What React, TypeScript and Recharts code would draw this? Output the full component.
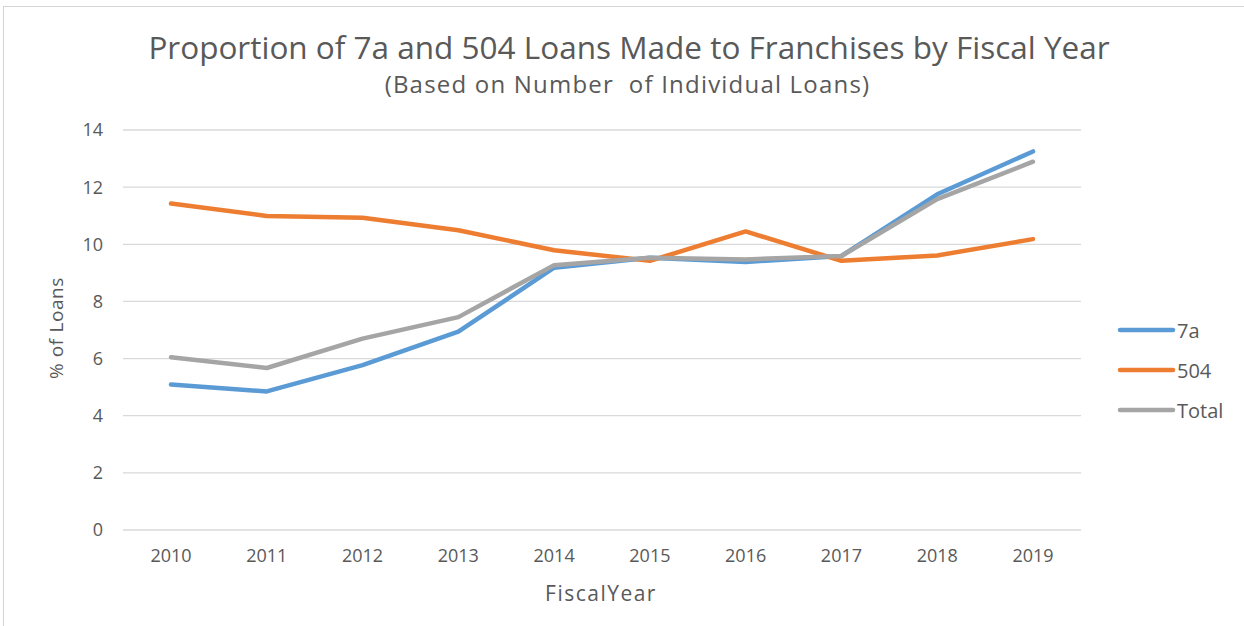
import React from "react";
import { LineChart, Line, XAxis, YAxis, CartesianGrid } from "recharts";

const years = ["2010", "2011", "2012", "2013", "2014", "2015", "2016", "2017", "2018", "2019"];
const loans7a = [5.09, 4.85, 5.77, 6.94, 9.18, 9.53, 9.38, 9.59, 11.75, 13.25];
const loans504 = [11.43, 10.99, 10.93, 10.49, 9.79, 9.42, 10.45, 9.42, 9.61, 10.18];
const loansTotal = [6.05, 5.67, 6.7, 7.45, 9.27, 9.53, 9.47, 9.59, 11.58, 12.89];
const yTicks = [0, 2, 4, 6, 8, 10, 12, 14];

const seriesDefs = [
  { key: "7a", name: "7a", color: "#5B9BD5", values: loans7a },
  { key: "504", name: "504", color: "#ED7D31", values: loans504 },
  { key: "Total", name: "Total", color: "#A5A5A5", values: loansTotal },
];

const data = years.map((y, i) => {
  const row: any = { year: y };
  seriesDefs.forEach((s) => (row[s.key] = s.values[i]));
  return row;
});

const FONT = "'Open Sans', 'DejaVu Sans', sans-serif";
const TEXT = "#595959";

export default function App() {
  return (
    <div
      style={{
        position: "absolute",
        left: 0,
        top: 0,
        width: 1244,
        height: 626,
        background: "#fff",
        overflow: "hidden",
        fontFamily: FONT,
      }}
    >
      <div
        style={{
          position: "absolute",
          left: 3,
          top: 6,
          width: 1250,
          height: 700,
          borderTop: "1px solid #d4d4d4",
          borderLeft: "1px solid #d4d4d4",
        }}
      />
      <div
        style={{
          position: "absolute",
          left: 0,
          width: 1258,
          top: 26,
          textAlign: "center",
          fontSize: 31.5,
          lineHeight: "42px",
          color: TEXT,
          whiteSpace: "nowrap",
        }}
      >
        Proportion of 7a and 504 Loans Made to Franchises by Fiscal Year
      </div>
      <div
        style={{
          position: "absolute",
          left: 0,
          width: 1255,
          top: 69,
          textAlign: "center",
          fontSize: 24,
          letterSpacing: 1.2,
          lineHeight: "30px",
          color: TEXT,
          whiteSpace: "nowrap",
        }}
      >
        (Based on Number&nbsp; of Individual Loans)
      </div>
      <div
        style={{
          position: "absolute",
          left: 56,
          top: 328,
          transform: "translate(-50%, -50%) rotate(-90deg)",
          fontSize: 19,
          letterSpacing: 0.6,
          color: TEXT,
          whiteSpace: "nowrap",
        }}
      >
        % of Loans
      </div>
      <div
        style={{
          position: "absolute",
          left: 601,
          top: 593,
          transform: "translate(-50%, -50%)",
          fontSize: 21,
          letterSpacing: 1.5,
          color: TEXT,
          whiteSpace: "nowrap",
          wordSpacing: -7,
        }}
      >
        Fiscal Year
      </div>
      <div style={{ position: "absolute", left: 0, top: 0 }}>
        <LineChart
          width={1244}
          height={626}
          data={data}
          margin={{ top: 130, right: 163, bottom: 0, left: 0 }}
        >
          <CartesianGrid horizontal={true} vertical={false} stroke="#d9d9d9" strokeWidth={1.3} />
          <XAxis
            dataKey="year"
            axisLine={false}
            tickLine={false}
            tickMargin={13}
            height={96}
            padding={{ left: 48, right: 48 }}
            tick={{ fill: TEXT, fontSize: 18, fontFamily: FONT }}
            interval={0}
          />
          <YAxis
            width={123}
            domain={[0, 14]}
            ticks={yTicks}
            axisLine={false}
            tickLine={false}
            tickMargin={14}
            tick={{ fill: TEXT, fontSize: 18, fontFamily: FONT }}
          />
          {seriesDefs.map((s) => (
            <Line
              key={s.key}
              dataKey={s.key}
              name={s.name}
              stroke={s.color}
              strokeWidth={4.5}
              dot={false}
              activeDot={false}
              strokeLinejoin="round"
              strokeLinecap="round"
              isAnimationActive={false}
            />
          ))}
        </LineChart>
      </div>
      <div
        style={{
          position: "absolute",
          left: 1116,
          top: 310,
          fontFamily: FONT,
          fontSize: 20,
          color: TEXT,
        }}
      >
        {seriesDefs.map((s) => (
          <div key={s.key} style={{ display: "flex", alignItems: "center", height: 40 }}>
            <svg width={61} height={10} style={{ display: "block" }}>
              <line x1={4} y1={5} x2={57} y2={5} stroke={s.color} strokeWidth={4.5} strokeLinecap="round" />
            </svg>
            <span>{s.name}</span>
          </div>
        ))}
      </div>
    </div>
  );
}
